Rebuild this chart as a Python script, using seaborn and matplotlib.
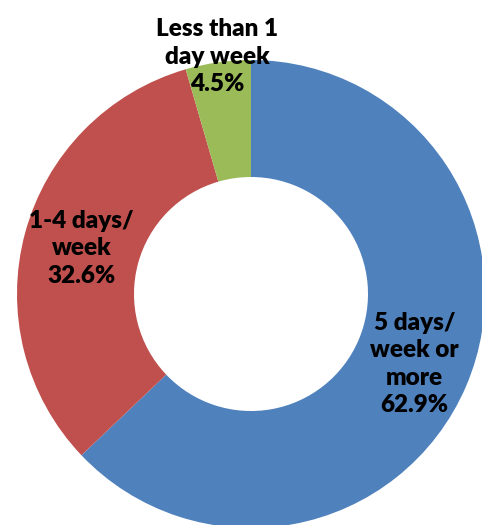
import numpy as np
import matplotlib
matplotlib.use("Agg")
import matplotlib.pyplot as plt
import seaborn as sns

categories = ["5 days/\nweek or\nmore", "1-4 days/\nweek", "Less than 1\nday week"]
shares = [62.9, 32.6, 4.5]
colors = ["#4F81BD", "#C0504D", "#9BBB59"]

sns.set_style("white")
plt.rcParams["font.family"] = ["Lato", "DejaVu Sans"]

W, H, DPI = 482, 525, 100
fig = plt.figure(figsize=(W / DPI, H / DPI), dpi=DPI)
ax = fig.add_axes([0, 0, 1, 1])

# donut centre / radius in pixels (from the reference)
cx, cy, rad = 251, 294, 234

wedges, _ = ax.pie(shares, colors=colors, startangle=90, counterclock=False,
                   wedgeprops=dict(width=0.5, linewidth=0))

ax.set_xlim(-cx / rad, (W - cx) / rad)
ax.set_ylim(-(H - cy) / rad, cy / rad)
ax.axis("off")

# label radius per wedge; the small one is pushed outside the ring
label_r = [0.76, 0.75, 1.025]
for w, name, val, r in zip(wedges, categories, shares, label_r):
    mid = np.deg2rad((w.theta1 + w.theta2) / 2)
    ax.text(r * np.cos(mid), r * np.sin(mid), f"{name}\n{val:.1f}%",
            ha="center", va="center", fontsize=17.5, fontweight="heavy",
            color="black", linespacing=1.3)

fig.savefig("out.png", dpi=DPI)
